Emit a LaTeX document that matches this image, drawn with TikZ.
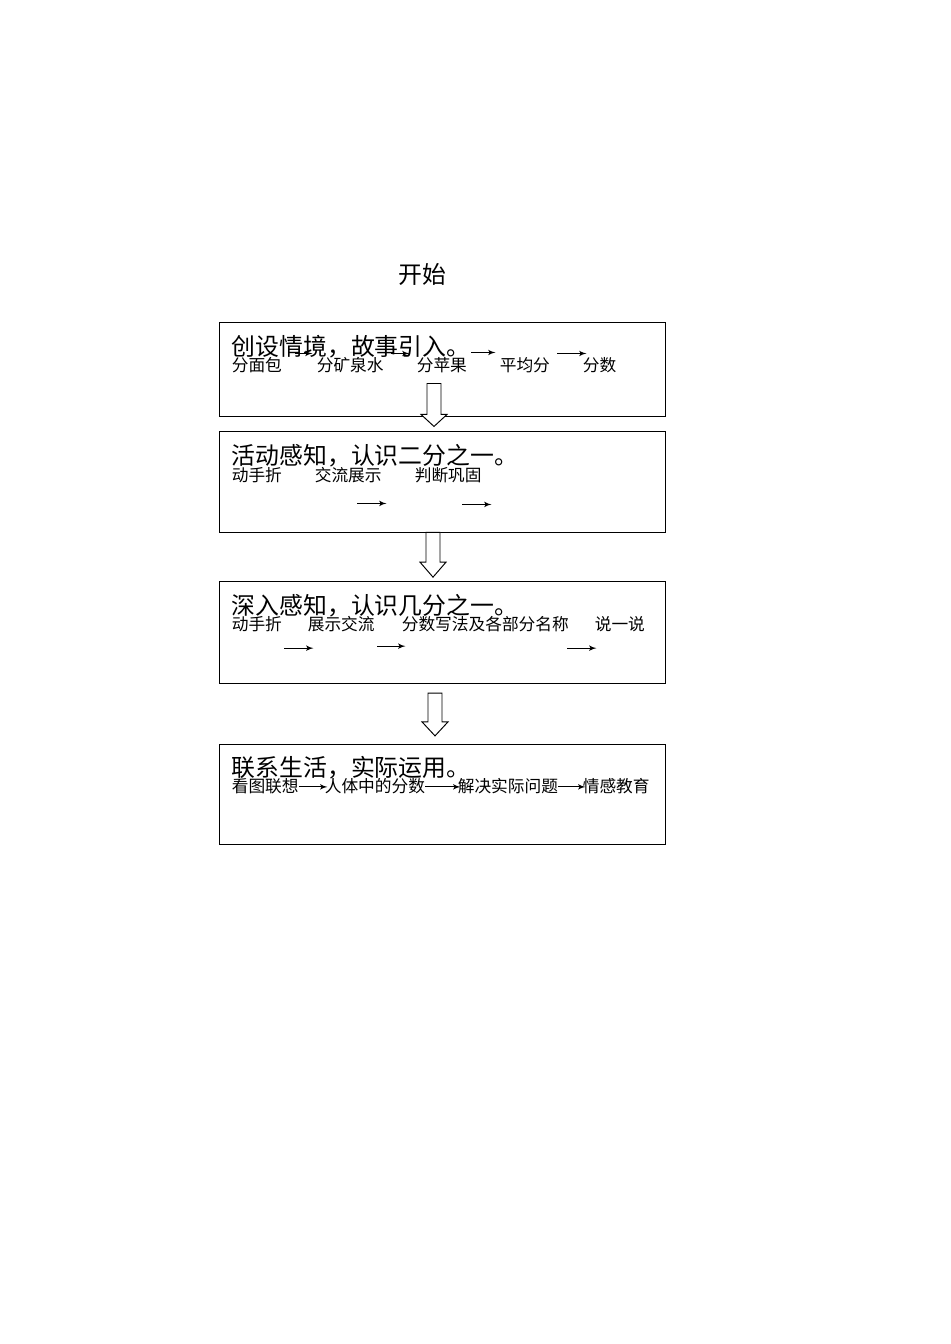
\documentclass[tikz,border=0pt]{standalone}
\usepackage{fontspec}
\setmainfont{Noto Sans CJK SC}
\usetikzlibrary{shapes,arrows,positioning,calc}

\begin{document}
\begin{tikzpicture}[%
    ,x=0.0221cm,y=-0.0221cm
    ,>=latex'
    ,block/.style = {%
        ,draw
        ,line width=0.6pt
        ,minimum width=279.8pt
        ,inner sep=0pt
        }
    ,title/.style = {anchor=base west,inner sep=0pt,font=\fontsize{15pt}{18pt}\selectfont}
    ,item/.style = {anchor=base west,inner sep=0pt,font=\fontsize{10.5pt}{12pt}\selectfont}
    ,step arrow/.style = {->,line width=0.6pt}
    ,fat/.style = {draw,fill=white,line width=0.6pt,line join=miter}
    ]
\useasboundingbox (0,0) rectangle (950,1344);

\node (start) [anchor=base,inner sep=0pt,font=\fontsize{15pt}{18pt}\selectfont] at (422,284) {开始};

\node (b1) [block, minimum height=58.5pt] at (442.5,369.5) {};
\node (b2) [block, minimum height=62.9pt, below=9.4pt of b1] {};
\node (b3) [block, minimum height=64.1pt, below=30.6pt of b2] {};
\node (b4) [block, minimum height=62.9pt, below=37.6pt of b3] {};

% small arrows inside the boxes
\foreach \b/\x/\y/\l in {1/76/31/17, 1/172/31/18, 1/252/30/24, 1/338/31/29,
                          2/138/72/29, 2/243/73/29,
                          3/65/67/29, 3/158/65/28, 3/348/67/29}
    \draw[step arrow] ($(b\b.north west)+(\x,\y)$) -- +(\l,0);

% titles
\foreach \i/\t in {1/创设情境，故事引入。, 2/活动感知，认识二分之一。,
                   3/深入感知，认识几分之一。, 4/联系生活，实际运用。}
    \node (t\i) [title] at ($(b\i.north west)+(12,33)$) {\t};

% steps in each box
\foreach \x/\t [count=\xi from 1] in {12/分面包, 97/分矿泉水, 197/分苹果, 280/平均分, 363/分数}
    \node (s1\xi) [item] at ($(b1.north west)+(\x,49)$) {\t};
\foreach \x/\t [count=\xi from 1] in {12/动手折, 95/交流展示, 195/判断巩固}
    \node (s2\xi) [item] at ($(b2.north west)+(\x,50)$) {\t};
\foreach \x/\t [count=\xi from 1] in {12/动手折, 88/展示交流, 182/分数写法及各部分名称, 375/说一说}
    \node (s3\xi) [item] at ($(b3.north west)+(\x,49)$) {\t};
\foreach \x/\t [count=\xi from 1] in {12/看图联想, 105/人体中的分数, 238/解决实际问题, 363/情感教育}
    \node (s4\xi) [item] at ($(b4.north west)+(\x,49)$) {\t};

\foreach \i [count=\j from 2] in {1,2,3}
    \draw[step arrow] ($(s4\i.base east)+(0,-6)$) -- ($(s4\j.base west)+(3,-6)$);

% block arrows between the boxes
\foreach \i/\j/\dx/\top/\tip/\hl in {1/2/-8.5/-33/5/12, 2/3/-9.5/0/4/15, 3/4/-7.5/9/8/14}
    \draw[fat] ($(b\i.south)+(\dx,\top)$) ++(-7,0) -- ++(14,0)
        -- ($(b\j.north)+(\dx,-\tip)+(7,-\hl)$) -- ($(b\j.north)+(\dx,-\tip)+(13,-\hl)$)
        -- ($(b\j.north)+(\dx,-\tip)$)
        -- ($(b\j.north)+(\dx,-\tip)+(-13,-\hl)$) -- ($(b\j.north)+(\dx,-\tip)+(-7,-\hl)$)
        -- cycle;
\end{tikzpicture}
\end{document}
